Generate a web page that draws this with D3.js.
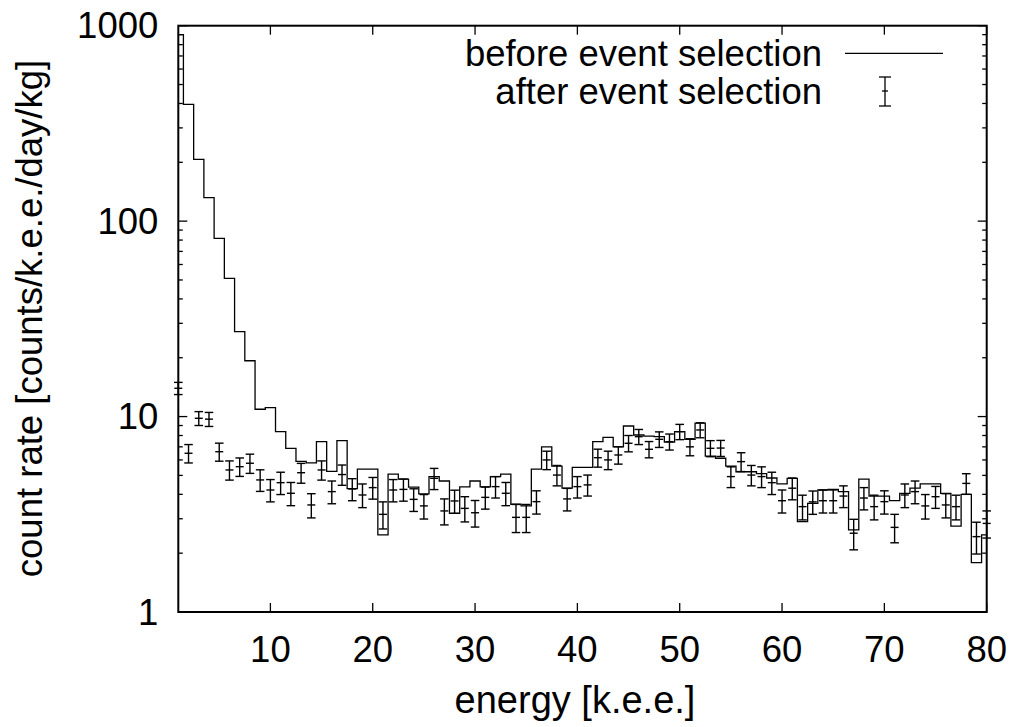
<!DOCTYPE html>
<html>
<head>
<meta charset="utf-8">
<script src="https://cdn.jsdelivr.net/npm/d3@7"></script>
<style>
  body { margin: 0; background: #fff; }
  text { font-family: "Liberation Sans", Arial, Helvetica, sans-serif; fill: #000; }
</style>
</head>
<body>
<div id="chart"></div>
<script>
// energy bins [k.e.e.], 1 keV wide, centred on the integer
var energy = [1,2,3,4,5,6,7,8,9,10,11,12,13,14,15,16,17,18,19,20,
  21,22,23,24,25,26,27,28,29,30,31,32,33,34,35,36,37,38,39,40,
  41,42,43,44,45,46,47,48,49,50,51,52,53,54,55,56,57,58,59,60,
  61,62,63,64,65,66,67,68,69,70,71,72,73,74,75,76,77,78,79,80];

// before event selection (histogram)
var before = [900,396,207,132,81.7,51,27.2,19.3,10.9,11.1,
  8.37,6.88,5.9,5.8,7.44,5.24,7.53,4.28,5.38,5.38,
  2.48,5.07,4.79,4.35,4.02,4.93,4.68,3.2,4.37,4.68,
  4.37,4.93,5.07,3.56,3.49,5.38,7.0,5.58,4.30,5.50,
  5.50,7.44,7.83,7.0,8.95,8.05,7.95,7.9,7.4,8.37,
  7.65,9.25,6.28,6.12,5.58,5.22,5.22,5.1,4.85,4.52,
  4.83,2.9,3.6,4.21,4.24,4.13,2.63,4.79,3.92,3.92,
  3.71,4.05,4.30,4.52,4.52,4.05,2.75,4.0,1.79,2.48];

// after event selection (points with error bars)
var after = [13.96,6.49,9.8,9.7,6.61,5.33,5.54,5.77,4.74,4.21,
  4.59,4.05,5.16,3.53,5.33,4.13,5.05,4.26,3.97,4.33,
  3.16,4.21,4.24,3.77,3.49,4.83,3.29,3.70,3.39,3.22,
  3.86,4.38,4.05,3.05,3.05,3.67,6.0,5.02,3.79,4.38,
  4.47,6.16,6.0,6.36,7.3,7.89,6.8,7.65,7.44,8.37,
  7.0,8.54,6.88,6.9,4.93,5.88,5.02,4.93,4.59,3.71,
  4.30,3.46,3.66,3.71,3.71,3.92,2.53,3.83,3.46,3.67,
  2.71,3.97,4.13,3.49,3.89,3.53,3.46,4.55,2.43,2.84];

var afterErr = [1.0,0.7,0.8,0.8,0.7,0.6,0.6,0.65,0.6,0.55,
  0.6,0.55,0.6,0.5,0.6,0.55,0.6,0.55,0.55,0.55,
  0.5,0.55,0.55,0.5,0.5,0.6,0.5,0.5,0.5,0.5,
  0.5,0.55,0.55,0.5,0.5,0.5,0.65,0.6,0.5,0.55,
  0.55,0.65,0.65,0.65,0.7,0.7,0.65,0.7,0.7,0.75,
  0.7,0.75,0.65,0.65,0.6,0.65,0.6,0.6,0.6,0.5,
  0.55,0.5,0.5,0.5,0.5,0.5,0.45,0.5,0.5,0.5,
  0.45,0.55,0.55,0.5,0.5,0.5,0.5,0.55,0.45,0.45];

var xTicks = [10,20,30,40,50,60,70,80];
var yTicks = [1,10,100,1000];
var yMinor = [2,3,4,5,6,7,8,9,20,30,40,50,60,70,80,90,200,300,400,500,600,700,800,900];

var W = 1011, H = 727;
var margin = {top: 25.7, right: 24.3, bottom: 115, left: 178.3},
    width = W - margin.left - margin.right,
    height = H - margin.top - margin.bottom;
var fs = "36.5px";

var x = d3.scaleLinear().domain([1, 80]).range([0, width]);
var y = d3.scaleLog().domain([1, 1000]).range([height, 0]);

var svg = d3.select("#chart").append("svg")
    .attr("width", W)
    .attr("height", H);

svg.append("defs").append("clipPath").attr("id", "clip")
  .append("rect").attr("width", width).attr("height", height);

var g = svg.append("g")
    .attr("transform", "translate(" + margin.left + "," + margin.top + ")");

// histogram steps
var stepPts = [[1, before[0]]];
for (var i = 1; i < energy.length; i++) {
  stepPts.push([energy[i] - 0.5, before[i]]);
}
stepPts.push([80, before[before.length - 1]]);

var line = d3.line()
    .x(function(d) { return x(d[0]); })
    .y(function(d) { return y(d[1]); })
    .curve(d3.curveStepAfter);

g.append("path")
    .datum(stepPts)
    .attr("clip-path", "url(#clip)")
    .attr("fill", "none")
    .attr("stroke", "#000")
    .attr("stroke-width", 1.3)
    .attr("d", line);

// error bars
var capW = 4.3, midW = 4;
var pts = g.selectAll(".pt")
    .data(energy.map(function(e, i) { return {e: e, v: after[i], s: afterErr[i]}; }))
  .enter().append("g")
    .attr("class", "pt")
    .attr("stroke", "#000")
    .attr("stroke-width", 1.4);

pts.append("line")
    .attr("x1", function(d) { return x(d.e); })
    .attr("x2", function(d) { return x(d.e); })
    .attr("y1", function(d) { return y(d.v - d.s); })
    .attr("y2", function(d) { return y(d.v + d.s); });
pts.append("line")
    .attr("x1", function(d) { return x(d.e) - capW; })
    .attr("x2", function(d) { return x(d.e) + capW; })
    .attr("y1", function(d) { return y(d.v - d.s); })
    .attr("y2", function(d) { return y(d.v - d.s); });
pts.append("line")
    .attr("x1", function(d) { return x(d.e) - capW; })
    .attr("x2", function(d) { return x(d.e) + capW; })
    .attr("y1", function(d) { return y(d.v + d.s); })
    .attr("y2", function(d) { return y(d.v + d.s); });
pts.append("line")
    .attr("x1", function(d) { return x(d.e) - midW; })
    .attr("x2", function(d) { return x(d.e) + midW; })
    .attr("y1", function(d) { return y(d.v); })
    .attr("y2", function(d) { return y(d.v); });

// ticks, inward on all four sides
var ax = g.append("g").attr("stroke", "#000").attr("stroke-width", 1.3);
xTicks.forEach(function(t) {
  ax.append("line").attr("x1", x(t)).attr("x2", x(t)).attr("y1", height).attr("y2", height - 9);
  ax.append("line").attr("x1", x(t)).attr("x2", x(t)).attr("y1", 0).attr("y2", 9);
});
yTicks.forEach(function(t) {
  ax.append("line").attr("x1", 0).attr("x2", 9).attr("y1", y(t)).attr("y2", y(t));
  ax.append("line").attr("x1", width).attr("x2", width - 9).attr("y1", y(t)).attr("y2", y(t));
});
yMinor.forEach(function(t) {
  ax.append("line").attr("x1", 0).attr("x2", 4.5).attr("y1", y(t)).attr("y2", y(t));
  ax.append("line").attr("x1", width).attr("x2", width - 4.5).attr("y1", y(t)).attr("y2", y(t));
});

g.append("rect")
    .attr("width", width)
    .attr("height", height)
    .attr("fill", "none")
    .attr("stroke", "#000")
    .attr("stroke-width", 2);

// tick labels
g.selectAll(".xl").data(xTicks).enter().append("text")
    .attr("x", function(d) { return x(d); })
    .attr("y", height + 50)
    .attr("text-anchor", "middle")
    .style("font-size", fs)
    .text(function(d) { return d; });

g.selectAll(".yl").data(yTicks).enter().append("text")
    .attr("x", -20)
    .attr("y", function(d) { return y(d); })
    .attr("dy", "0.35em")
    .attr("text-anchor", "end")
    .style("font-size", fs)
    .text(function(d) { return d; });

// axis titles
g.append("text")
    .attr("x", 575 - margin.left)
    .attr("y", height + 101)
    .attr("text-anchor", "middle")
    .style("font-size", "38px")
    .text("energy [k.e.e.]");

g.append("text")
    .attr("transform", "translate(" + (42 - margin.left) + "," + (318.5 - margin.top) + ")rotate(-90)")
    .attr("text-anchor", "middle")
    .style("font-size", fs)
    .text("count rate [counts/k.e.e./day/kg]");

// legend
var lg = svg.append("g");
lg.append("text")
    .attr("x", 822).attr("y", 53.3).attr("dy", "0.34em")
    .attr("text-anchor", "end")
    .style("font-size", fs)
    .text("before event selection");
lg.append("line")
    .attr("x1", 845).attr("x2", 943).attr("y1", 53.3).attr("y2", 53.3)
    .attr("stroke", "#000").attr("stroke-width", 1.3);
lg.append("text")
    .attr("x", 822).attr("y", 91.5).attr("dy", "0.34em")
    .attr("text-anchor", "end")
    .style("font-size", fs)
    .text("after event selection");
var le = lg.append("g").attr("stroke", "#000").attr("stroke-width", 1.3);
le.append("line").attr("x1", 885).attr("x2", 885).attr("y1", 77).attr("y2", 106);
le.append("line").attr("x1", 879).attr("x2", 891).attr("y1", 77).attr("y2", 77);
le.append("line").attr("x1", 879).attr("x2", 891).attr("y1", 106).attr("y2", 106);
le.append("line").attr("x1", 882).attr("x2", 888).attr("y1", 91).attr("y2", 91);
</script>
</body>
</html>
